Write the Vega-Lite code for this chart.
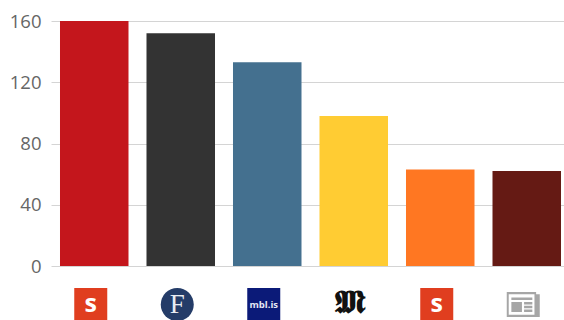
{
  "$schema": "https://vega.github.io/schema/vega-lite/v6.json",
  "width": 513,
  "height": 245,
  "padding": {"left": 51, "top": 21, "right": 0, "bottom": 54},
  "autosize": {"type": "none"},
  "background": "white",
  "view": {"stroke": null},
  "data": {
    "values": [
      {"outlet": "s-first", "badge": "s", "count": 160},
      {"outlet": "f", "badge": "F", "count": 152},
      {"outlet": "mbl", "badge": "mbl.is", "count": 133},
      {"outlet": "m", "badge": "𝕸", "count": 98},
      {"outlet": "s-second", "badge": "s", "count": 63},
      {"outlet": "news", "badge": "", "count": 62}
    ]
  },
  "encoding": {
    "x": {
      "field": "outlet",
      "type": "nominal",
      "axis": null,
      "scale": {
        "domain": ["s-first", "f", "mbl", "m", "s-second", "news"],
        "range": [0, 519],
        "paddingInner": 0.208,
        "paddingOuter": 0.104
      }
    }
  },
  "layer": [
    {
      "mark": {"type": "bar"},
      "encoding": {
        "y": {
          "field": "count",
          "type": "quantitative",
          "scale": {"domain": [0, 160], "nice": false},
          "axis": {
            "values": [0, 40, 80, 120, 160],
            "title": null,
            "domain": false,
            "ticks": false,
            "labelPadding": 10,
            "labelFont": "Open Sans",
            "labelFontSize": 18.5,
            "labelColor": "#666666",
            "gridColor": "#d4d4d4",
            "gridWidth": 1
          }
        },
        "color": {
          "field": "outlet",
          "type": "nominal",
          "legend": null,
          "scale": {
            "domain": ["s-first", "f", "mbl", "m", "s-second", "news"],
            "range": ["#C4161C", "#333333", "#44708F", "#FFCC33", "#FF7722", "#651A14"]
          }
        }
      }
    },
    {
      "transform": [{"filter": "datum.outlet !== 'm'"}],
      "mark": {"type": "point", "filled": true, "opacity": 1, "xOffset": -3.5},
      "encoding": {
        "y": {"datum": "logos", "type": "nominal", "axis": null, "scale": {"domain": ["logos"], "range": [283.5, 283.5]}},
        "fill": {
          "field": "outlet",
          "type": "nominal",
          "legend": null,
          "scale": {
            "domain": ["s-first", "f", "mbl", "s-second", "news"],
            "range": ["#E03E1F", "#243C68", "#0B1A78", "#E03E1F", "#A6A6A6"]
          }
        },
        "shape": {
          "field": "outlet",
          "type": "nominal",
          "legend": null,
          "scale": {
            "domain": ["s-first", "f", "mbl", "s-second", "news"],
            "range": [
              "square",
              "circle",
              "square",
              "square",
              "M-1 -0.76H0.78V-0.62H1V0.76H-1ZM-0.88 -0.62V0.62H0.68V-0.62ZM-0.72 -0.42H0.55V-0.28H-0.72ZM-0.72 -0.15H-0.08V0.45H-0.72ZM0.05 -0.15H0.55V0H0.05ZM0.05 0.08H0.55V0.22H0.05ZM0.05 0.3H0.55V0.45H0.05Z"
            ]
          }
        },
        "size": {
          "field": "outlet",
          "type": "nominal",
          "legend": null,
          "scale": {
            "domain": ["s-first", "f", "mbl", "s-second", "news"],
            "range": [1089, 1089, 1089, 1089, 1089]
          }
        }
      }
    },
    {
      "transform": [{"filter": "datum.badge === 's'"}],
      "mark": {"type": "text", "font": "Open Sans", "fontWeight": "bold", "fontSize": 25, "color": "white", "xOffset": -3.5, "baseline": "middle", "yOffset": -1},
      "encoding": {
        "y": {"datum": "logos", "type": "nominal", "axis": null, "scale": {"domain": ["logos"], "range": [283.5, 283.5]}},
        "text": {"field": "badge"}
      }
    },
    {
      "transform": [{"filter": "datum.badge === 'F'"}],
      "mark": {"type": "text", "font": "Liberation Serif", "fontSize": 27, "color": "#E8ECF2", "xOffset": -3.5, "baseline": "middle", "yOffset": 0},
      "encoding": {
        "y": {"datum": "logos", "type": "nominal", "axis": null, "scale": {"domain": ["logos"], "range": [283.5, 283.5]}},
        "text": {"field": "badge"}
      }
    },
    {
      "transform": [{"filter": "datum.badge === 'mbl.is'"}],
      "mark": {"type": "text", "font": "Open Sans", "fontWeight": "bold", "fontSize": 9.5, "color": "#E6E8F4", "xOffset": -3.5, "baseline": "middle", "yOffset": 0},
      "encoding": {
        "y": {"datum": "logos", "type": "nominal", "axis": null, "scale": {"domain": ["logos"], "range": [283.5, 283.5]}},
        "text": {"field": "badge"}
      }
    },
    {
      "transform": [{"filter": "datum.outlet === 'm'"}],
      "mark": {"type": "text", "font": "DejaVu Serif", "fontWeight": "bold", "fontSize": 33, "color": "#111111", "xOffset": -3.5, "baseline": "middle", "yOffset": -1.5},
      "encoding": {
        "y": {"datum": "logos", "type": "nominal", "axis": null, "scale": {"domain": ["logos"], "range": [283.5, 283.5]}},
        "text": {"field": "badge"}
      }
    }
  ],
  "resolve": {"scale": {"y": "independent", "color": "independent"}}
}
